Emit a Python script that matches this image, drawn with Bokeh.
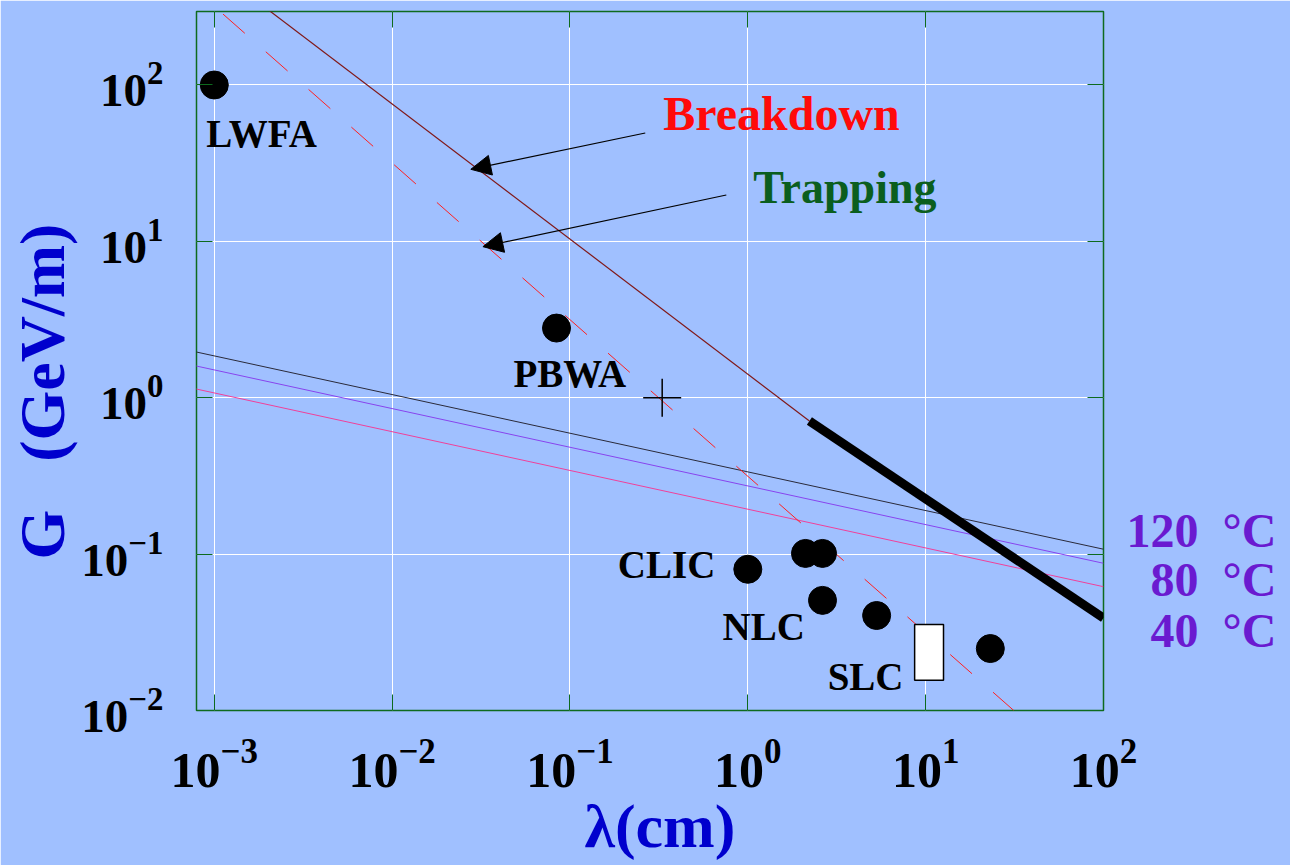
from bokeh.plotting import figure
from bokeh.models import (LogAxis, FixedTicker, Label, Arrow, NormalHead, Range1d,
                          CustomJSTickFormatter, LogTickFormatter, Title)
from bokeh.embed import file_html
from bokeh.resources import INLINE

# ---------------- data ----------------
x_ticks = [1e-3, 1e-2, 1e-1, 1e0, 1e1, 1e2]
y_ticks = [1e-2, 1e-1, 1e0, 1e1, 1e2]

# accelerators (filled dots)
dot_lambda = [1e-3, 0.084, 1.0, 2.11, 2.63, 2.63, 5.3, 23.1]
dot_G = [100.0, 2.79, 0.080, 0.101, 0.101, 0.0506, 0.0405, 0.0249]

# SLC box
slc_left, slc_right = [8.67], [12.6]
slc_bottom, slc_top = [0.0156], [0.0355]

# cross marker
cross_lambda = [0.33]
cross_G = [1.0]

# breakdown limit (thin line, then thick line)
breakdown_lambda = [0.002, 2.22]
breakdown_G = [304.0, 0.71]
breakdown2_lambda = [2.22, 100.0]
breakdown2_G = [0.71, 0.039]

# trapping limit (dashed)
trapping_lambda = [0.00112, 31.3]
trapping_G = [284.0, 0.0100]

# temperature lines
temp_lambda = [7.9e-4, 100.0]
temp120_G = [1.963, 0.1075]
temp80_G = [1.597, 0.0874]
temp40_G = [1.138, 0.0619]
# temperature captions (right margin), lowest first
temp_label_G = [0.0323, 0.0684, 0.1406]
temp_labels = ["\u200740 \u00a0\u00b0C", "\u200780 \u00a0\u00b0C", "120 \u00a0\u00b0C"]

# arrows
arrow_start_lambda = [0.265, 0.757]
arrow_start_G = [49.3, 19.8]
arrow_end_lambda = [0.0277, 0.0324]
arrow_end_G = [28.9, 9.25]
arrow_text = ["Breakdown", "Trapping"]

point_label_text = ["LWFA", "PBWA", "CLIC", "NLC", "SLC"]
point_label_lambda = [1e-3, 0.084, 1.0, 2.63, 8.67]
point_label_G = [100.0, 2.79, 0.080, 0.0506, 0.0156]

x_title = "\u03bb(cm)"
y_title = "G \u00a0\u00a0(GeV/m)"

# ---------------- styling ----------------
BG = "#a0c0ff"
FRAME = "#0e6a1e"
BLUE = "#0000cd"
PURPLE = "#6a1ad0"
FONT = "Liberation Serif"
X_LO, X_HI = 10 ** -3.1, 10 ** 2.0
Y_LO, Y_HI = 10 ** -2.0, 10 ** 2.47

p = figure(width=1290, height=865, x_axis_type="log", y_axis_type="log",
           x_range=Range1d(X_LO, X_HI), y_range=Range1d(Y_LO, Y_HI),
           output_backend="svg", toolbar_location=None,
           min_border_left=196, min_border_right=187, min_border_top=11,
           min_border_bottom=155,
           background_fill_color=BG, border_fill_color=BG,
           outline_line_color=FRAME, outline_line_width=1.5)

p.add_layout(LogAxis(), "above")
p.add_layout(LogAxis(), "right")
temp_axis = LogAxis(ticker=FixedTicker(ticks=temp_label_G),
                    formatter=CustomJSTickFormatter(args=dict(labels=temp_labels),
                                                    code="return labels[index]"))
temp_axis.major_tick_line_color = None
temp_axis.minor_tick_line_color = None
temp_axis.axis_line_color = None
temp_axis.major_label_standoff = 17
temp_axis.major_label_text_font = FONT
temp_axis.major_label_text_font_style = "bold"
temp_axis.major_label_text_font_size = "48px"
temp_axis.major_label_text_color = PURPLE
p.add_layout(temp_axis, "right")

blank = CustomJSTickFormatter(code="return ''")
main_axes = [p.below[0], p.left[0]]
for ax in p.above + p.below:
    ax.ticker = FixedTicker(ticks=x_ticks)
for ax in p.left + [p.right[0]]:
    ax.ticker = FixedTicker(ticks=y_ticks)
for ax in p.above + p.below + p.left + [p.right[0]]:
    ax.major_tick_in = 16
    ax.major_tick_out = 0
    ax.major_tick_line_color = FRAME
    ax.major_tick_line_width = 1
    ax.minor_tick_line_color = None
    ax.axis_line_color = None
    ax.axis_label = None
    ax.major_label_text_font = FONT
    ax.major_label_text_font_style = "bold"
    ax.major_label_text_color = "black"
    if ax not in main_axes:
        ax.formatter = blank
        ax.major_label_text_font_size = "0px"
        ax.major_label_standoff = 0
    else:
        ax.formatter = LogTickFormatter()

p.below[0].major_label_text_font_size = "50px"
p.below[0].major_label_standoff = 29
p.left[0].major_label_text_font_size = "47px"
p.left[0].major_label_standoff = 33

p.xgrid.ticker = FixedTicker(ticks=x_ticks)
p.ygrid.ticker = FixedTicker(ticks=y_ticks)
p.grid.grid_line_color = "white"
p.grid.grid_line_width = 1
p.grid.minor_grid_line_color = None

# axis titles
p.add_layout(Title(text=x_title, align="left", offset=388, standoff=0,
                   text_font=FONT, text_font_style="bold",
                   text_font_size="62px", text_color=BLUE), "below")
p.add_layout(Title(text=y_title, align="left", offset=151, standoff=2,
                   text_font=FONT, text_font_style="bold",
                   text_font_size="64px", text_color=BLUE), "left")

# temperature lines
p.line(temp_lambda, temp120_G, line_color="#2a2a3a", line_width=1)
p.line(temp_lambda, temp80_G, line_color="#8844ee", line_width=1)
p.line(temp_lambda, temp40_G, line_color="#f0409a", line_width=1)

# trapping (dashed red)
p.line(trapping_lambda, trapping_G, line_color="#ff2020", line_width=1,
       line_dash="29 28")

# breakdown
p.line(breakdown_lambda, breakdown_G, line_color="#801818", line_width=1.2)
p.line(breakdown2_lambda, breakdown2_G, line_color="black", line_width=9,
       line_cap="butt")

# SLC box
p.quad(left=slc_left, right=slc_right, bottom=slc_bottom, top=slc_top,
       fill_color="white", line_color="black", line_width=1.5)

# dots
p.scatter(dot_lambda, dot_G, size=28, fill_color="black", line_color="black")

# cross
p.scatter(cross_lambda, cross_G, marker="cross", size=38, line_color="black",
          line_width=1.5)

# arrows
for xs, ys, xe, ye in zip(arrow_start_lambda, arrow_start_G,
                          arrow_end_lambda, arrow_end_G):
    p.add_layout(Arrow(x_start=xs, y_start=ys, x_end=xe, y_end=ye,
                       line_color="black", line_width=1.2,
                       end=NormalHead(size=20, fill_color="black",
                                      line_color="black", line_width=1)))

def lab(text, x, y, dx, dy, size, color="black"):
    # dx: pixels to the right, dy: pixels downwards (to the text baseline)
    dy_eff = dy - 0.365 * size
    p.add_layout(Label(x=x, y=y, x_offset=dx, y_offset=-dy_eff, text=text,
                       text_font=FONT, text_font_style="bold",
                       text_font_size=f"{size}px", text_color=color,
                       text_align="left", text_baseline="alphabetic"))

# arrow texts
lab(arrow_text[0], arrow_start_lambda[0], arrow_start_G[0], 18, -2, 48, "#ff0a0a")
lab(arrow_text[1], arrow_start_lambda[1], arrow_start_G[1], 27, 9, 46, "#0b5e1e")

# point labels
pl_off = [(-8, 63), (-43, 60), (-130, 9), (-100, 40), (-87, 10)]
for t, x, y, (dx, dy) in zip(point_label_text, point_label_lambda,
                             point_label_G, pl_off):
    lab(t, x, y, dx, dy, 39)

open("out.html", "w").write(file_html(p, INLINE))
